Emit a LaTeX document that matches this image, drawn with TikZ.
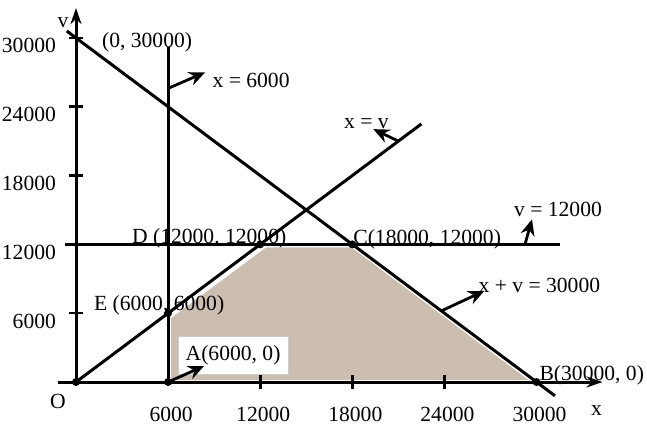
\documentclass[tikz,border=0pt]{standalone}
\usepackage{fontspec}
\setmainfont{Liberation Serif}
\usetikzlibrary{calc,arrows.meta}
\definecolor{shadecol}{RGB}{203,189,175}
\begin{document}
\begin{tikzpicture}[x=0.5pt,y=-0.5pt,
  every node/.style={font=\fontsize{10.8}{12.8}\selectfont},
  ln/.style={line width=1.5pt},
  tk/.style={line width=1.3pt},
  ann/.style={line width=1.4pt,-{Stealth[length=8pt,width=7pt]}},
  axisline/.style={line width=1.5pt,-{Stealth[length=8pt,width=5.5pt]}},
  dot/.style={circle,fill=black,inner sep=0pt,minimum size=4pt},
]
\useasboundingbox (0,0) rectangle (647,429);
\begin{scope}[shift={(76,382)},x=7.675pt,y=5.735pt]
 \coordinate (O) at (0,0);
 \coordinate (A) at (6,0);
 \coordinate (B) at (30,0);
 \coordinate (C) at (18,12);
 \coordinate (D) at (12,12);
 \coordinate (E) at (6,6);
 \coordinate (P) at (0,30);
 \coordinate (yb) at (0,-0.3);
 \coordinate (yt) at (0,32.6);
 \coordinate (xl) at (-1.2,0);
 \coordinate (xr) at (34.3,0);
 \coordinate (Ma) at (-0.6,30.6);
 \coordinate (Mb) at (31.2,-1.2);
 \coordinate (Vt) at (6,29.2);
 \coordinate (Lxy) at (22.5,22.5);
 \coordinate (Ha) at (-0.7,12);
 \coordinate (Hb) at (31.5,12);
 \coordinate (s6) at (6,25.6);
 \coordinate (sxy) at (21,21);
 \coordinate (s12) at (29.25,12);
 \coordinate (s30) at (23.8,6.2);
 \foreach \v in {6,12,18,24,30} {\coordinate (ty\v) at (0,\v);}
 \foreach \v in {6,12,18,24,30} {\coordinate (tx\v) at (\v,0);}
\end{scope}

% feasible region
\fill[shadecol] ($(E)+(3,5)$) -- ($(D)+(6,3)$) -- ($(C)+(-1,3)$) -- ($(B)+(-8,-2)$) -- ($(A)+(3,-2)$) -- cycle;

% axes and lines
\draw[axisline] (yb) -- (yt);
\draw[axisline] (xl) -- (xr);
\draw[ln] (Ma) -- (Mb);
\draw[ln] (A) -- (Vt);
\draw[ln] (O) -- (Lxy);
\draw[ln] (Ha) -- (Hb);

% ticks
\foreach \v in {6,18,24,30} {\draw[tk] ($(ty\v)+(-7,0)$) -- ($(ty\v)+(7,0)$);}
\foreach \v in {12,18,24} {\draw[tk] ($(tx\v)+(0,-7)$) -- ($(tx\v)+(0,7)$);}

% tick labels
\foreach \v/\t in {6/6000,12/12000,18/18000,24/24000,30/30000} {\node[anchor=east] (ly\v) at ($(ty\v)+(-13,8)$) {\t};}
\foreach \v/\t in {6/6000,12/12000,18/18000,24/24000,30/30000} {\node (lx\v) at ($(tx\v)+(3,32)$) {\t};}

% point labels
\node[anchor=west] (lP) at ($(P)+(19,4)$) {(0, 30000)};
\node (lE) at ($(E)+(-9,-8)$) {E (6000, 6000)};
\node (lD) at ($(D)+(-51,-6)$) {D (12000, 12000)};
\node[anchor=west] (lC) at ($(C)+(-6,-5)$) {C(18000, 12000)};
\node[anchor=west] (lB) at ($(B)+(-4,-7)$) {B(30000, 0)};
\node (lO) at ($(O)+(-18,19)$) {O};
\node (lv) at ($(yt)+(-13,15)$) {v};
\node (lx) at ($(xr)+(-6,29)$) {x};
\node[fill=white,draw=gray!40,line width=0.4pt,minimum width=55pt,minimum height=19pt] (lA) at ($(A)+(65,-27)$) {A(6000, 0)};

% line labels
\node (l6) at ($(s6)+(83,-8)$) {x = 6000};
\node (lxy) at ($(sxy)+(-32,-17)$) {x = v};
\node (l12) at ($(s12)+(33,-35)$) {v = 12000};
\node (l30) at ($(s30)+(98,-25)$) {x + v = 30000};

% annotation arrows
\coordinate (t6) at ($(s6)+(37,-16)$);
\coordinate (txy) at ($(sxy)+(-25,-12)$);
\coordinate (t12) at ($(s12)+(7,-25)$);
\coordinate (t30) at ($(s30)+(43,-20)$);
\coordinate (tA) at ($(A)+(36,-16)$);
\draw[ann] (s6) -- (t6);
\draw[ann] (sxy) -- (txy);
\draw[ann] (s12) -- (t12);
\draw[ann] (s30) -- (t30);
\draw[ann] (A) -- (tA);

% dots
\foreach \p in {O,A,B,C,D,E} {\node[dot] (d\p) at (\p) {};}
\end{tikzpicture}
\end{document}
